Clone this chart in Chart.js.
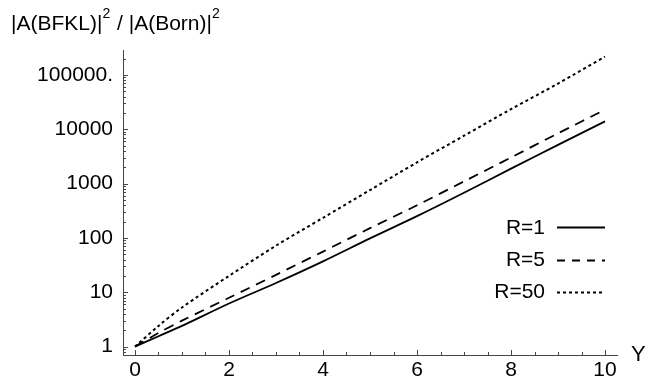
<!DOCTYPE html>
<html>
<head>
<meta charset="utf-8">
<script src="https://cdn.jsdelivr.net/npm/chart.js@4/dist/chart.umd.min.js"></script>
<style>
  html, body { margin: 0; padding: 0; background: #fff; }
  #wrap { width: 659px; height: 382px; }
</style>
</head>
<body>
<div id="wrap"><canvas id="c" width="659" height="382"></canvas></div>
<script>
// ---- data ----
const yRapidity = [0, 0.5, 1, 2, 3, 4, 5, 6, 7, 8, 9, 10];
const ratioR1  = [1, 1.55, 2.4, 6.2, 14.8, 37, 98, 251, 676, 1880, 5150, 13960];
const ratioR5  = [1, 1.78, 3.0, 7.9, 20.9, 56, 151, 398, 1096, 3020, 8400, 22900];
const ratioR50 = [1, 2.4, 5.25, 20, 72, 234, 759, 2455, 7590, 23400, 69200, 216000];
const seriesLabels = ["R=1", "R=5", "R=50"];
const xTickValues = [0, 2, 4, 6, 8, 10];
const yTickValues = [1, 10, 100, 1000, 10000, 100000];
const yTickLabels = ["1", "10", "100", "1000", "10000", "100000."];
const yAxisTitle = ["|A(BFKL)|", "2", " / |A(Born)|", "2"];
const xAxisTitle = "Y";

const FONT = '"Liberation Sans", Arial, Helvetica, sans-serif';
const toPts = (ys) => yRapidity.map((x, i) => ({x: x, y: ys[i]}));

const ink = '#000';
const axisColor = '#444';

const decorPlugin = {
  id: 'decor',
  afterDraw(chart) {
    const ctx = chart.ctx;
    const xs = chart.scales.x, ys = chart.scales.y;
    const ca = chart.chartArea;
    ctx.save();
    ctx.strokeStyle = axisColor;
    ctx.lineWidth = 1;
    // x ticks (inside, pointing up)
    for (let v = 0; v <= xs.max + 1e-9; v += 0.5) {
      if (v < xs.min) continue;
      const px = Math.round(xs.getPixelForValue(v)) + 0.5;
      const len = (Math.abs(v % 2) < 1e-9) ? 5 : 3;
      ctx.beginPath();
      ctx.moveTo(px, ca.bottom);
      ctx.lineTo(px, ca.bottom - len);
      ctx.stroke();
    }
    // y ticks (log, inside, pointing right)
    for (let k = -1; k <= 6; k++) {
      for (let m = 1; m <= 9; m++) {
        const v = m * Math.pow(10, k);
        if (v < ys.min || v > ys.max) continue;
        const py = Math.round(ys.getPixelForValue(v)) + 0.5;
        const len = (m === 1) ? 5 : 3;
        ctx.beginPath();
        ctx.moveTo(ca.left, py);
        ctx.lineTo(ca.left + len, py);
        ctx.stroke();
      }
    }
    // y-axis title with superscripts
    ctx.fillStyle = ink;
    ctx.textBaseline = 'alphabetic';
    ctx.textAlign = 'left';
    let x = 11;
    const big = '21px ' + FONT, small = '14px ' + FONT;
    yAxisTitle.forEach((t, i) => {
      const sup = (i % 2 === 1);
      ctx.font = sup ? small : big;
      ctx.fillText(t, x, sup ? 18 : 30);
      x += ctx.measureText(t).width + (sup ? 1 : 0);
    });
    // x-axis title
    ctx.font = '22px ' + FONT;
    ctx.fillText(xAxisTitle, 631, 361);
    // legend
    ctx.font = '21px ' + FONT;
    ctx.textAlign = 'right';
    ctx.textBaseline = 'middle';
    const rows = [227, 259.5, 291.5];
    chart.data.datasets.forEach((ds, i) => {
      const y = rows[i];
      ctx.fillStyle = ink;
      ctx.fillText(ds.label, 545, y + 1);
      ctx.save();
      ctx.strokeStyle = ds.borderColor;
      ctx.lineWidth = ds.borderWidth;
      ctx.setLineDash(ds.legendDash || []);
      ctx.beginPath();
      ctx.moveTo(557, Math.round(y) + 0.5);
      ctx.lineTo(605, Math.round(y) + 0.5);
      ctx.stroke();
      ctx.restore();
    });
    ctx.restore();
  }
};

new Chart(document.getElementById('c'), {
  type: 'line',
  data: {
    datasets: [
      { label: seriesLabels[0], data: toPts(ratioR1), borderColor: ink, borderWidth: 1.8,
        borderDash: [], legendDash: [] },
      { label: seriesLabels[1], data: toPts(ratioR5), borderColor: ink, borderWidth: 1.8,
        borderDash: [10, 7], legendDash: [8, 7] },
      { label: seriesLabels[2], data: toPts(ratioR50), borderColor: ink, borderWidth: 2,
        borderDash: [3, 3], legendDash: [3, 3] }
    ]
  },
  options: {
    responsive: false,
    animation: false,
    devicePixelRatio: 1,
    layout: { padding: { left: 0, right: 42, top: 50, bottom: 0 } },
    elements: {
      point: { radius: 0, hoverRadius: 0 },
      line: { tension: 0.3, cubicInterpolationMode: 'default', fill: false }
    },
    plugins: { legend: { display: false }, tooltip: { enabled: false }, title: { display: false } },
    scales: {
      x: {
        type: 'linear',
        min: -0.255, max: 10.255,
        afterBuildTicks: (s) => { s.ticks = xTickValues.map(v => ({value: v})); },
        afterFit: (s) => { s.height = 27; },
        grid: { display: false, drawTicks: false },
        border: { display: true, color: axisColor, width: 1 },
        ticks: { color: ink, padding: 3, font: { family: FONT, size: 21 }, maxRotation: 0,
                 autoSkip: false, callback: (v) => String(v) }
      },
      y: {
        type: 'logarithmic',
        min: 0.745, max: 287000,
        afterBuildTicks: (s) => { s.ticks = yTickValues.map(v => ({value: v})); },
        afterFit: (s) => { s.width = 123; },
        grid: { display: false, drawTicks: false },
        border: { display: true, color: axisColor, width: 1 },
        ticks: { color: ink, padding: 10, font: { family: FONT, size: 21 }, autoSkip: false,
                 callback: (v) => { const i = yTickValues.indexOf(v); return i >= 0 ? yTickLabels[i] : ''; } }
      }
    }
  },
  plugins: [decorPlugin]
});
</script>
</body>
</html>
